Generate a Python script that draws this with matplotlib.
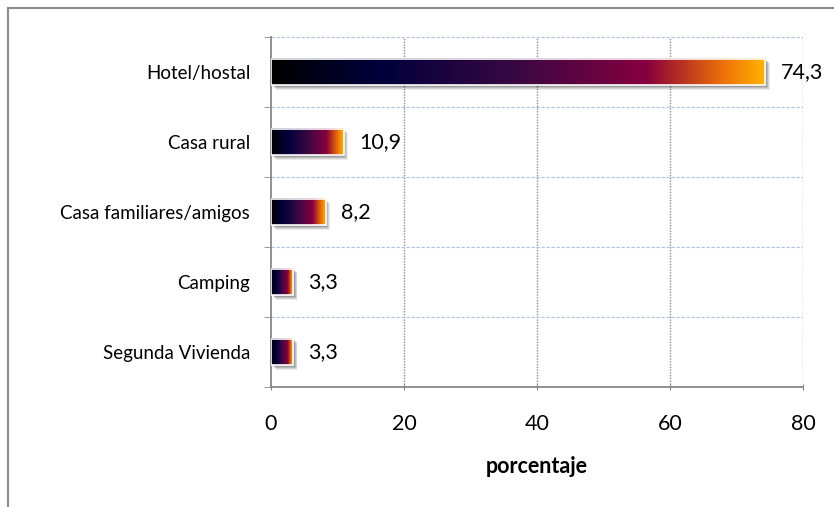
import numpy as np
import matplotlib.pyplot as plt
from matplotlib.colors import LinearSegmentedColormap
from matplotlib.patches import Rectangle
from matplotlib.lines import Line2D
import matplotlib.transforms as mtransforms

categorias = ["Hotel/hostal", "Casa rural", "Casa familiares/amigos", "Camping", "Segunda Vivienda"]
valores = [74.3, 10.9, 8.2, 3.3, 3.3]
ticks_x = [0, 20, 40, 60, 80]

plt.rcParams['font.family'] = ['Lato', 'DejaVu Sans']

# degradado parecido al de Excel
cmap = LinearSegmentedColormap.from_list("fuego", [
    (0.0, "#000000"),
    (0.22, "#00003c"),
    (0.5, "#3a0842"),
    (0.76, "#870040"),
    (0.82, "#b02a24"),
    (0.92, "#f07408"),
    (1.0, "#ffb400"),
])

fig = plt.figure(figsize=(8.34, 5.07), dpi=100)
ax = fig.add_axes([0.325, 0.237, 0.638, 0.69])

alto = 0.38
grad = np.linspace(0, 1, 256).reshape(1, -1)
for i, v in enumerate(valores):
    # sombra
    for k, a in zip([5, 4, 3, 2], [0.08, 0.1, 0.12, 0.15]):
        tr = mtransforms.offset_copy(ax.transData, fig=fig, x=k * 0.9, y=-k * 0.9, units='dots')
        ax.add_patch(Rectangle((0, i - alto / 2), v, alto, facecolor='black', alpha=a,
                               edgecolor='none', transform=tr, zorder=2))
    ax.imshow(grad, cmap=cmap, aspect='auto', extent=[0, v, i + alto / 2, i - alto / 2],
              zorder=3, interpolation='bilinear')
    ax.add_patch(Rectangle((0, i - alto / 2), v, alto, facecolor='none', edgecolor='white',
                           linewidth=1.2, zorder=4))
    ax.annotate(f"{v:.1f}".replace('.', ','), xy=(v, i), xytext=(11, 0),
                textcoords='offset points', va='center', ha='left', fontsize=15.5, zorder=5)

ax.set_xlim(0, 80)
ax.set_ylim(len(categorias) - 0.5, -0.5)
ax.set_xticks(ticks_x)
ax.set_xticklabels([str(t) for t in ticks_x], fontsize=15.5)
ax.set_yticks(range(len(categorias)))
ax.set_yticklabels(categorias, fontsize=13.5)
ax.tick_params(axis='y', length=0, pad=15)
ax.set_yticks(np.arange(-0.5, len(categorias), 1), minor=True)
ax.tick_params(axis='y', which='minor', length=5, color='#888888', direction='out')
ax.tick_params(axis='x', length=5, color='#888888', direction='inout', pad=17)

for x in ticks_x[1:]:
    ax.axvline(x, color='#8c8c8c', linestyle=(0, (1, 1)), linewidth=1, zorder=1)
for y in np.arange(-0.5, len(categorias) - 1, 1):
    ax.axhline(y, color='#aec2dc', linestyle=(0, (3, 1.5)), linewidth=0.8, zorder=1)

for s in ['top', 'right']:
    ax.spines[s].set_visible(False)
for s in ['left', 'bottom']:
    ax.spines[s].set_color('#888888')
    ax.spines[s].set_linewidth(1.3)

ax.set_xlabel("porcentaje", fontsize=15.5, fontweight='bold', labelpad=16)

# marco del gráfico
fig.add_artist(Line2D([0.009, 1.0], [0.985, 0.985], color='#8c8c8c', linewidth=1.5))
fig.add_artist(Line2D([0.009, 0.009], [0.0, 0.985], color='#8c8c8c', linewidth=1.5))

fig.savefig("out.png", dpi=100)
